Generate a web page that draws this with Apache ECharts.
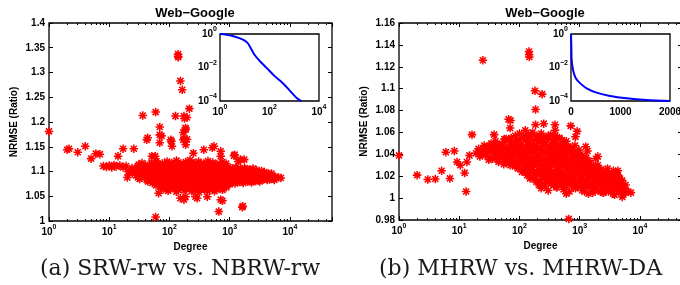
<!DOCTYPE html>
<html>
<head>
<meta charset="UTF-8">
<title>Web-Google NRMSE</title>
<script type="text/javascript" src="https://cdn.jsdelivr.net/npm/echarts@6/dist/echarts.min.js"></script>
<style>body{margin:0;background:#fff;}</style>
</head>
<body>

<div id="box" style="width:680px;height:285px;"></div>

<script type="text/javascript">

// (a) SRW-rw vs. NBRW-rw : [degree, NRMSE ratio]
var srwSparse = [
  [1,1.181],[2,1.144],[2.15,1.146],[3,1.139],[4,1.151],[5,1.126],[6,1.136],[7,1.135],[14,1.131],[17,1.146],[25.6,1.146],
  [8,1.111],[9,1.109],[10,1.112],[11,1.108],[12,1.113],[13,1.110],[15,1.112],[17,1.108],[19,1.111],[21,1.100],
  [36,1.213],[59,1.220],[126,1.212],[174,1.212],[178,1.207],[69,1.190],[69,1.174],[74,1.172],[185,1.188],[187,1.185],
  [43.5,1.168],[105,1.164],[176,1.166],[42,1.164],[69,1.158],[108,1.161],[110,1.151],[186,1.154],[196,1.165],
  [139,1.337],[139,1.333],[140,1.331],[152,1.283],[163,1.265],[214,1.227],[196,1.209],
  [59,1.008],[20,1.088],[51,1.131],[55,1.114],[35,1.117],[31,1.114],[40,1.090],[66,1.056],[152,1.046],[174,1.043],
  [185,1.049],[288,1.046],[425,1.049],[710,1.043],[760,1.041],[660,1.019],[1620,1.028],[1650,1.030],
  [4550,1.093],[7080,1.087],[5500,1.083],[170,1.164],[170,1.179],[372,1.144],[250,1.137],[550,1.151],[710,1.141],
  [710,1.131],[1180,1.132],[1500,1.124],[515,1.148],[1210,1.134],[1380,1.120],[1740,1.124],[58,1.131],[270,1.049],
  [210,1.066],[760,1.063]
];
var srwCore = [
  [50,1.118],[61,1.121],[76,1.116],[91,1.120],[109,1.117],[131,1.122],[154,1.116],[186,1.119],[219,1.123],[262,1.117],[305,1.120],[372,1.116],[436,1.121],[525,1.118],[615,1.115],[748,1.119],[873,1.116],
  [40,1.113],[55,1.114],[68,1.112],[84,1.115],[100,1.113],[120,1.111],[142,1.114],[170,1.112],[200,1.115],[240,1.113],[285,1.111],[340,1.114],[405,1.112],[480,1.115],[570,1.113],[680,1.110],[800,1.113],
  [24,1.107],[30,1.111],[38,1.106],[46,1.110],[57,1.108],[66,1.112],[79,1.107],[92,1.110],[107,1.113],[127,1.108],[147,1.111],[173,1.106],[201,1.110],[236,1.112],[273,1.107],[322,1.110],[374,1.108],[442,1.111],[513,1.106],[604,1.109],[698,1.112],[825,1.107],[955,1.109],[1125,1.106],[1290,1.108],[1530,1.105],[1770,1.107],[2110,1.104],[2440,1.106],
  [27,1.104],[34,1.106],[42,1.103],[52,1.105],[63,1.107],[75,1.104],[89,1.106],[106,1.103],[125,1.105],[148,1.107],[175,1.104],[207,1.106],[245,1.103],[290,1.105],[343,1.107],[405,1.104],[480,1.106],[567,1.103],[670,1.105],[792,1.104],[937,1.106],[1107,1.103],[1310,1.105],[1548,1.102],[1830,1.104],[2164,1.101],[2800,1.103],[3400,1.101],
  [21,1.100],[26,1.103],[33,1.098],[41,1.102],[50,1.099],[61,1.101],[71,1.103],[86,1.098],[99,1.102],[119,1.100],[137,1.097],[163,1.102],[189,1.099],[224,1.101],[258,1.098],[306,1.103],[353,1.099],[417,1.101],[483,1.097],[572,1.102],[662,1.099],[783,1.101],[905,1.098],[1065,1.100],[1235,1.097],[1455,1.101],[1695,1.099],[2010,1.102],[2340,1.098],[2760,1.100],[3190,1.097],[3760,1.099],[4420,1.096],
  [24,1.096],[30,1.098],[38,1.095],[46,1.097],[56,1.096],[66,1.098],[78,1.095],[92,1.097],[108,1.099],[128,1.096],[151,1.098],[178,1.095],[210,1.097],[248,1.096],[293,1.098],[346,1.095],[409,1.097],[483,1.099],[570,1.096],[673,1.098],[795,1.095],[939,1.097],[1109,1.096],[1310,1.098],[1547,1.095],[1827,1.097],[2158,1.096],[2549,1.098],[3010,1.095],[3555,1.097],[4199,1.094],[4960,1.096],
  [28,1.092],[36,1.094],[45,1.091],[55,1.095],[66,1.092],[80,1.090],[93,1.094],[111,1.091],[128,1.093],[152,1.090],[176,1.094],[208,1.092],[241,1.089],[284,1.093],[330,1.091],[388,1.094],[452,1.090],[532,1.092],[618,1.089],[727,1.093],[848,1.091],[997,1.094],[1163,1.090],[1363,1.092],[1588,1.095],[1862,1.091],[2178,1.093],[2553,1.090],[2978,1.092],[3493,1.089],[4077,1.091],[4785,1.088],[5597,1.090],[6500,1.088],
  [30,1.088],[39,1.090],[49,1.087],[60,1.089],[72,1.088],[86,1.090],[101,1.087],[119,1.089],[140,1.086],[165,1.088],[194,1.090],[228,1.087],[268,1.089],[315,1.086],[370,1.088],[435,1.090],[511,1.087],[601,1.089],[707,1.086],[831,1.088],[977,1.087],[1149,1.089],[1351,1.086],[1589,1.088],[1868,1.090],[2196,1.087],[2582,1.089],[3036,1.086],[3570,1.088],[4198,1.087],[4935,1.089],[5800,1.087],
  [32,1.085],[42,1.083],[53,1.086],[64,1.084],[77,1.082],[90,1.086],[106,1.083],[124,1.085],[145,1.081],[170,1.085],[199,1.083],[233,1.086],[272,1.082],[318,1.084],[372,1.081],[435,1.085],[509,1.083],[596,1.086],[697,1.082],[815,1.084],[953,1.081],[1115,1.085],[1305,1.083],[1527,1.086],[1786,1.082],[2090,1.084],[2445,1.081],[2860,1.085],[3346,1.083],[3915,1.086],[4580,1.084],[5360,1.086],
  [44,1.080],[58,1.082],[72,1.079],[86,1.081],[102,1.080],[120,1.078],[141,1.081],[166,1.079],[195,1.082],[229,1.080],[269,1.078],[316,1.081],[372,1.079],[437,1.082],[514,1.080],[604,1.078],[710,1.081],[835,1.079],[981,1.082],[1153,1.080],[1356,1.082],[1594,1.080],[1874,1.083],[2203,1.081],[2590,1.083],[3045,1.082],[3580,1.084],[4209,1.083],
  [52,1.077],[68,1.075],[84,1.078],[100,1.074],[118,1.077],[138,1.075],[161,1.078],[188,1.074],[220,1.076],[257,1.073],[300,1.077],[351,1.075],[410,1.078],[480,1.074],[561,1.076],[656,1.073],[767,1.077],[897,1.075],[1050,1.078],[1228,1.076],[1436,1.079],[1680,1.077],[1965,1.080],[2300,1.078],[2690,1.081],[3150,1.080],
  [60,1.072],[78,1.074],[98,1.071],[120,1.073],[145,1.072],[172,1.070],[203,1.073],[239,1.071],[281,1.074],[330,1.072],[388,1.070],[456,1.073],[536,1.071],[630,1.074],[740,1.072],[870,1.071],[1000,1.074],
  [70,1.069],[90,1.067],[112,1.070],[135,1.066],[158,1.069],[185,1.067],[216,1.070],[252,1.066],[295,1.068],[345,1.065],[403,1.069],[471,1.067],[551,1.070],[644,1.066],[753,1.069],[880,1.068],
  [80,1.064],[105,1.066],[140,1.063],[185,1.065],[240,1.064],[300,1.062],[370,1.065],[470,1.063],[600,1.064],[760,1.066],
  [95,1.061],[130,1.059],[175,1.062],[235,1.060],[310,1.058],[420,1.061],[560,1.060]
];

// (b) MHRW vs. MHRW-DA : [degree, NRMSE ratio]
var mhrwSparse = [
  [1,1.039],[2,1.021],[3,1.017],[4,1.0175],[5.1,1.025],[6,1.042],[7,1.018],[8.3,1.043],[9.2,1.033],[10.4,1.030],
  [12.3,1.023],[13,1.006],[13.4,1.033],[14.8,1.039],[16.3,1.058],[19,1.041],[22,1.038],[31,1.035],[38,1.058],
  [24.7,1.126],[144,1.134],[145,1.131],[146,1.129],[181,1.098],[238,1.095],[185,1.081],[66,1.072],[71,1.071],
  [70,1.064],[56,1.054],[710,1.066],[389,1.067],[392,1.062],[253,1.068],[185,1.067],[125,1.062],[660,0.981],
  [7080,1.005],[5100,1.001],[5200,1.003],[910,1.061],[850,1.056],[1260,1.047],[1350,1.043],[1860,1.036],
  [2000,1.030],[2000,1.038],[4300,1.025],[2900,1.027]
];
var mhrwCore = [
  [85,1.057],[100,1.059],[118,1.056],[140,1.058],[165,1.060],[195,1.057],[230,1.059],[275,1.056],[330,1.058],[390,1.057],[460,1.055],
  [60,1.054],[73,1.055],[92,1.053],[110,1.055],[130,1.054],[155,1.056],[180,1.053],[212,1.055],[250,1.054],[300,1.056],[360,1.053],[425,1.055],[510,1.053],[600,1.052],
  [34,1.050],[40,1.052],[47,1.049],[56,1.051],[66,1.053],[78,1.050],[92,1.052],[108,1.049],[127,1.053],[150,1.051],[176,1.048],[207,1.052],[244,1.050],[287,1.053],[338,1.049],[398,1.051],[470,1.048],[550,1.050],[650,1.047],
  [26,1.048],[31,1.047],[37,1.049],[44,1.047],[52,1.048],[61,1.046],[72,1.049],[85,1.047],[100,1.048],[118,1.046],[139,1.049],[163,1.047],[192,1.048],[226,1.046],[266,1.049],[313,1.047],[369,1.048],[434,1.046],[511,1.049],[602,1.047],[709,1.046],[835,1.048],
  [21,1.045],[25,1.043],[30,1.046],[36,1.044],[43,1.046],[51,1.043],[60,1.045],[71,1.047],[84,1.044],[99,1.046],[116,1.043],[137,1.045],[161,1.047],[190,1.044],[224,1.046],[263,1.043],[310,1.045],[365,1.047],[430,1.044],[506,1.046],[595,1.043],[700,1.045],[825,1.042],[970,1.044],
  [23,1.042],[29,1.041],[35,1.043],[42,1.041],[50,1.042],[59,1.040],[70,1.043],[82,1.041],[97,1.042],[114,1.040],[134,1.043],[158,1.041],[186,1.042],[219,1.040],[258,1.043],[304,1.041],[358,1.042],[421,1.040],[496,1.043],[584,1.041],[688,1.042],[810,1.040],[954,1.041],[1120,1.039],
  [27,1.039],[33,1.037],[40,1.040],[48,1.038],[57,1.036],[68,1.040],[80,1.038],[94,1.041],[111,1.037],[131,1.039],[154,1.036],[181,1.040],[213,1.038],[251,1.041],[296,1.037],[348,1.039],[410,1.036],[483,1.040],[568,1.038],[669,1.036],[788,1.039],[928,1.037],[1090,1.035],[1285,1.037],
  [36,1.036],[44,1.035],[53,1.037],[63,1.035],[75,1.036],[88,1.034],[104,1.037],[122,1.035],[144,1.036],[170,1.034],[200,1.037],[235,1.035],[277,1.036],[326,1.034],[384,1.037],[452,1.035],[532,1.036],[627,1.034],[738,1.036],[869,1.034],[1020,1.035],[1200,1.033],[1420,1.034],
  [45,1.033],[55,1.031],[66,1.034],[78,1.032],[92,1.030],[108,1.034],[127,1.031],[150,1.033],[176,1.030],[207,1.034],[244,1.032],[287,1.029],[338,1.033],[398,1.031],[469,1.034],[552,1.030],[650,1.032],[765,1.029],[900,1.031],[1060,1.033],[1250,1.030],[1470,1.032],[1730,1.029],
  [70,1.030],[84,1.029],[100,1.031],[118,1.029],[139,1.030],[164,1.028],[193,1.031],[227,1.029],[267,1.030],[315,1.028],[371,1.031],[437,1.029],[514,1.030],[605,1.028],[713,1.030],[839,1.028],[988,1.029],[1160,1.027],[1370,1.029],[1610,1.027],[1900,1.028],[2240,1.026],
  [95,1.027],[115,1.025],[138,1.028],[163,1.026],[192,1.024],[226,1.027],[266,1.025],[313,1.028],[369,1.024],[434,1.026],[511,1.023],[602,1.027],[709,1.025],[835,1.022],[983,1.026],[1157,1.024],[1362,1.027],[1604,1.025],[1888,1.023],[2223,1.026],[2617,1.024],[3081,1.022],[3628,1.025],
  [110,1.024],[130,1.023],[152,1.025],[178,1.022],[210,1.024],[246,1.023],[290,1.021],[341,1.024],[401,1.022],[472,1.023],[556,1.021],[655,1.024],[771,1.022],[908,1.023],[1069,1.021],[1259,1.023],[1483,1.022],[1746,1.024],[2056,1.021],[2421,1.023],[2851,1.022],[3357,1.020],[3953,1.023],[4300,1.021],
  [135,1.021],[165,1.019],[200,1.022],[240,1.020],[285,1.018],[340,1.021],[400,1.019],[470,1.022],[555,1.018],[653,1.020],[769,1.017],[905,1.021],[1066,1.019],[1255,1.022],[1478,1.018],[1740,1.020],[2049,1.017],[2412,1.021],[2840,1.019],[3344,1.016],[3937,1.020],[4636,1.018],
  [150,1.018],[178,1.017],[215,1.016],[262,1.018],[312,1.016],[370,1.017],[435,1.015],[512,1.018],[604,1.016],[711,1.017],[838,1.015],[987,1.017],[1162,1.016],[1368,1.018],[1611,1.015],[1897,1.017],[2234,1.016],[2631,1.018],[3098,1.015],[3648,1.017],[4296,1.016],[5000,1.014],
  [190,1.015],[240,1.013],[300,1.016],[370,1.012],[450,1.015],[540,1.013],[650,1.016],[780,1.012],[930,1.014],[1110,1.011],[1320,1.015],[1570,1.013],[1860,1.016],[2200,1.012],[2600,1.014],[3080,1.011],[3640,1.015],[4300,1.013],[5080,1.016],[5800,1.012],
  [210,1.012],[265,1.011],[335,1.013],[410,1.010],[495,1.012],[595,1.011],[715,1.013],[860,1.010],[1020,1.012],[1210,1.011],[1440,1.013],[1710,1.010],[2030,1.012],[2410,1.011],[2860,1.013],[3400,1.010],[4030,1.012],[4780,1.011],[5500,1.009],
  [230,1.009],[300,1.007],[420,1.010],[540,1.008],[680,1.006],[850,1.009],[1100,1.007],[1450,1.010],[1800,1.008],[2200,1.006],[2700,1.009],[3300,1.007],[4000,1.010],[4800,1.008],[5800,1.006],
  [1200,1.006],[1650,1.005],[2050,1.007],[2450,1.005],[3000,1.006],[3600,1.004],[4400,1.006],[5300,1.005],
  [600,1.004],[1400,1.004],[2500,1.005],[3800,1.003],[6200,1.006]
];

// insets (blue curves)
var insetA = [[1,1],[1.78,0.912],[3.24,0.759],[6.03,0.562],[10,0.398],[13.2,0.282],[15.8,0.186],[20,0.1],[25.7,0.0537],
  [39.8,0.0251],[75.9,0.00955],[158,0.00316],[355,0.00112],[631,0.000447],[933,0.00024],[1259,0.000151],[1778,0.000107],[1995,0.0001]];
var insetB = [[0,1],[6.7,0.19],[13,0.0295],[40,0.0074],[94,0.00234],[182,0.00117],[316,0.000575],[518,0.000316],
  [787,0.0002],[1124,0.000145],[1528,0.000115],[2000,0.0001]];

var rangeA = [1, 1.4, 0.05];
var rangeB = [0.98, 1.16, 0.02];
var degreeRange = [1, 50000];

var FONT = 'Liberation Sans';
// matlab '*' marker
var star = 'path://M0,4.1L10,4.1L10,5.9L0,5.9Z M4.1,0L5.9,0L5.9,10L4.1,10Z M2.1,0.8L9.2,7.9L7.9,9.2L0.8,2.1Z M7.9,0.8L9.2,2.1L2.1,9.2L0.8,7.9Z';

var supRich = {
  b: {fontSize: 10, fontWeight: 'bold', fontFamily: FONT, color: '#000', lineHeight: 16},
  s: {fontSize: 7, fontWeight: 'bold', fontFamily: FONT, color: '#000', lineHeight: 8, verticalAlign: 'top'}
};
function pow10Label(v) {
  var e = Math.log(v) / Math.LN10;
  var r = Math.round(e);
  if (Math.abs(e - r) > 1e-6) return '';
  return '{b|10}{s|' + (r < 0 ? '\u2212' + (-r) : r) + '}';
}
// inset axes only label every other decade
function pow10Even(v) {
  var r = Math.round(Math.log(v) / Math.LN10);
  if (r % 2 !== 0) return '';
  return pow10Label(v);
}
var boldText = {fontSize: 10, fontWeight: 'bold', fontFamily: FONT, color: '#000'};

function mainX(grid, top) {
  return {
    type: 'log', gridIndex: grid, position: top ? 'top' : 'bottom',
    min: degreeRange[0], max: degreeRange[1],
    axisLine: {show: false},
    axisTick: {show: true, inside: true, length: 4, lineStyle: {color: '#000'}},
    minorTick: {show: true, splitNumber: 9, length: 2, lineStyle: {color: '#000'}},
    splitLine: {show: false},
    axisLabel: {show: !top, margin: 3, formatter: pow10Label, rich: supRich},
    name: top ? '' : 'Degree', nameLocation: 'middle', nameGap: 17, nameTextStyle: boldText
  };
}
function mainY(grid, r, right) {
  return {
    type: 'value', gridIndex: grid, position: right ? 'right' : 'left',
    min: r[0], max: r[1], interval: r[2],
    axisLine: {show: false},
    axisTick: {show: true, inside: true, length: 4, lineStyle: {color: '#000'}},
    splitLine: {show: false},
    axisLabel: {show: !right, margin: 4, fontSize: 10, fontWeight: 'bold', fontFamily: FONT, color: '#000'},
    name: right ? '' : 'NRMSE (Ratio)', nameLocation: 'middle', nameGap: 30, nameTextStyle: boldText
  };
}
function insetLog(grid, min, max) {
  return {
    type: 'log', gridIndex: grid, min: min, max: max,
    axisLine: {show: false}, axisTick: {show: false}, splitLine: {show: false},
    axisLabel: {margin: 3, interval: 0, formatter: pow10Even, rich: supRich}
  };
}
function frame(l, t, w, h) {
  return {left: l, top: t, width: w, height: h, show: true, borderColor: '#000', borderWidth: 1.3,
    backgroundColor: '#fff', containLabel: false, outerBoundsMode: 'none'};
}

var mychart = echarts.init(document.getElementById('box'));

var titleStyle = {fontSize: 13, fontWeight: 'bold', fontFamily: FONT, color: '#000'};
var option = {
  animation: false,
  backgroundColor: '#fff',
  title: [
    {text: 'Web\u2212Google', left: 190, top: 2, textAlign: 'center', textStyle: titleStyle},
    {text: 'Web\u2212Google', left: 540, top: 2, textAlign: 'center', textStyle: titleStyle}
  ],
  grid: [frame(49, 23, 283, 198), frame(220, 34, 99, 67), frame(399, 23, 283, 197), frame(571, 34, 99, 67)],
  xAxis: [
    mainX(0, false), mainX(0, true),
    insetLog(1, 1, 10000),
    mainX(2, false), mainX(2, true),
    {type: 'value', gridIndex: 3, min: 0, max: 2000, interval: 1000, axisLine: {show: false}, axisTick: {show: false},
      splitLine: {show: false},
      axisLabel: {margin: 6, fontSize: 10, fontWeight: 'bold', fontFamily: FONT, color: '#000',
        formatter: function (v) { return String(v); }}}
  ],
  yAxis: [
    mainY(0, rangeA, false), mainY(0, rangeA, true), insetLog(1, 0.0001, 1),
    mainY(2, rangeB, false), mainY(2, rangeB, true), insetLog(3, 0.0001, 1)
  ],
  series: [
    {type: 'scatter', xAxisIndex: 0, yAxisIndex: 0, data: srwSparse.concat(srwCore), symbol: star, symbolSize: 8.5,
      itemStyle: {color: '#ff0000', opacity: 1}, clip: false, silent: true},
    {type: 'line', xAxisIndex: 2, yAxisIndex: 2, data: insetA, showSymbol: false, smooth: 0.3,
      lineStyle: {color: '#0000ff', width: 2}, z: 5},
    {type: 'scatter', xAxisIndex: 3, yAxisIndex: 3, data: mhrwSparse.concat(mhrwCore), symbol: star, symbolSize: 8.5,
      itemStyle: {color: '#ff0000', opacity: 1}, clip: false, silent: true},
    {type: 'line', xAxisIndex: 5, yAxisIndex: 5, data: insetB, showSymbol: false, smooth: 0.3,
      lineStyle: {color: '#0000ff', width: 2}, z: 5}
  ],
  graphic: [
    {type: 'text', left: 40, top: 258, style: {text: '(a) SRW-rw vs. NBRW-rw', font: '22px "DejaVu Serif"', fill: '#1a1a1a'}},
    {type: 'text', left: 379, top: 258, style: {text: '(b) MHRW vs. MHRW-DA', font: '22px "DejaVu Serif"', fill: '#1a1a1a'}}
  ]
};

mychart.setOption(option);
</script>
</body>
</html>
